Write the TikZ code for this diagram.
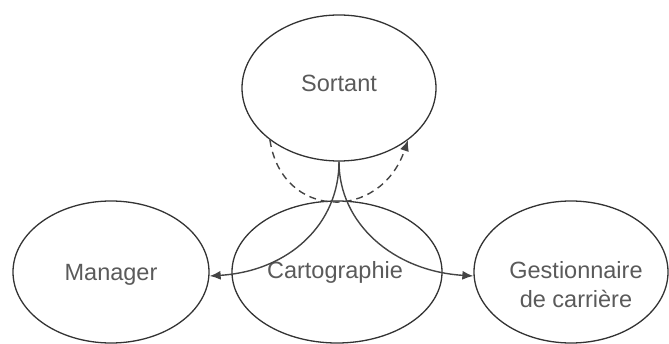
\documentclass[tikz,border=0pt]{standalone}
\usepackage{fontspec}
\setmainfont{Liberation Sans}
\usetikzlibrary{shapes.geometric,arrows.meta}
\definecolor{edge}{HTML}{333333}
\definecolor{txt}{HTML}{5A5A5A}
\definecolor{arr}{HTML}{444444}
\begin{document}
\begin{tikzpicture}[x=1pt,y=1pt,
  oval/.style={ellipse,draw=edge,line width=1.3pt,inner sep=0pt},
  lbl/.style={anchor=base,text=txt,font=\fontsize{23.5}{29}\selectfont,inner sep=0pt},
  link/.style={draw=arr,line width=1.4pt,-{Latex[length=11pt,width=9pt]}},
  dlink/.style={link,dash pattern=on 7pt off 5pt}]
\useasboundingbox (0,0) rectangle (669,343);
\node[oval,minimum width=194pt,minimum height=146pt] (S) at (339,255) {};
\node[oval,minimum width=196pt,minimum height=142pt] (M) at (111,71) {};
\node[oval,minimum width=210pt,minimum height=142pt] (C) at (337,71) {};
\node[oval,minimum width=194pt,minimum height=142pt] (G) at (571,71) {};
\node[lbl] (tS) at (339,251) {Sortant};
\node[lbl] (tM) at (111,63) {Manager};
\node[lbl] (tC) at (335,65) {Cartographie};
\node[lbl] (tG1) at (576,65) {Gestionnaire};
\node[lbl] (tG2) at (576,36) {de carrière};
\coordinate (ml) at ([yshift=-4pt]M.east);
\coordinate (gl) at ([yshift=-4pt]G.west);
\draw[link] (S.south) .. controls +(0,-62) and +(80,5) .. (ml);
\draw[link] (S.south) .. controls +(0,-62) and +(-80,5) .. (gl);
\draw[dlink] (S.-143) .. controls +(12,-80) and +(-28,-82) .. (S.-37);
\end{tikzpicture}
\end{document}
